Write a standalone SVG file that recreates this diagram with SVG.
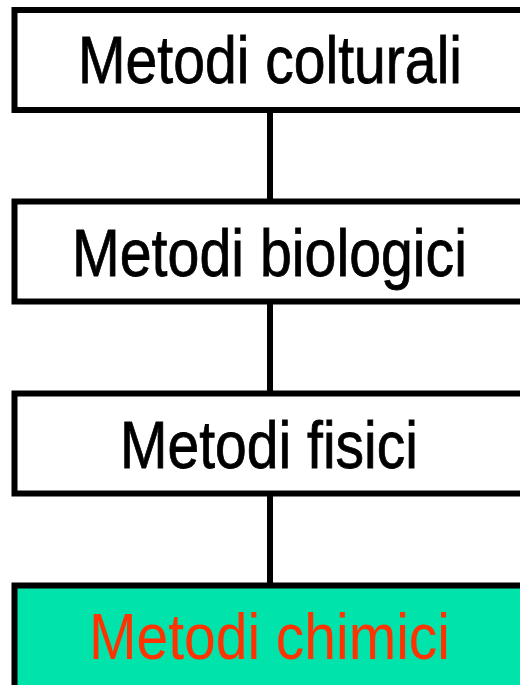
<svg xmlns="http://www.w3.org/2000/svg" width="520" height="685" viewBox="0 0 520 685">
<style>
.box{fill:#ffffff;stroke:#000000;stroke-width:6}
.chem{fill:#00E3AA}
.lbl{font-family:"Liberation Sans Narrow","Arial Narrow","Liberation Sans",Arial,sans-serif;font-size:66px;fill:#000000;stroke:#000000;stroke-width:0.8;text-anchor:middle}
.red{fill:#FF3300;stroke:none;font-size:64px}
.conn{stroke:#000000;stroke-width:6;fill:none}
</style>
<rect width="520" height="685" fill="#ffffff"/>
<g id="connectors">
<line class="conn" x1="270" y1="110" x2="270" y2="201"/>
<line class="conn" x1="270" y1="301" x2="270" y2="393"/>
<line class="conn" x1="270" y1="493" x2="270" y2="585"/>
</g>
<g id="node-colturali">
<rect class="box" x="14.5" y="10" width="520" height="100"/>
<text class="lbl" x="270" y="83" textLength="384" lengthAdjust="spacingAndGlyphs">Metodi colturali</text>
</g>
<g id="node-biologici">
<rect class="box" x="14.5" y="201.5" width="520" height="100"/>
<text class="lbl" x="269.5" y="276" textLength="395" lengthAdjust="spacingAndGlyphs">Metodi biologici</text>
</g>
<g id="node-fisici">
<rect class="box" x="14.5" y="393.5" width="520" height="100"/>
<text class="lbl" x="269" y="468" textLength="298" lengthAdjust="spacingAndGlyphs">Metodi fisici</text>
</g>
<g id="node-chimici">
<rect class="box chem" x="14.5" y="585.5" width="520" height="110"/>
<text class="lbl red" x="269.5" y="659" textLength="361" lengthAdjust="spacingAndGlyphs">Metodi chimici</text>
</g>
</svg>
